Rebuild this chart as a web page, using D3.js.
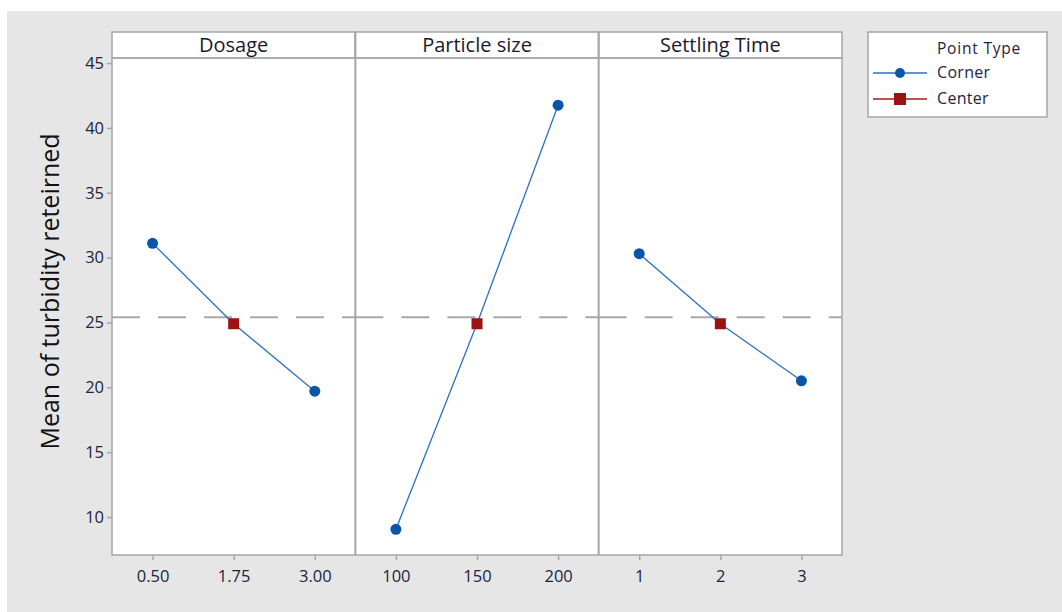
<!DOCTYPE html>
<html>
<head>
<meta charset="utf-8">
<script src="https://cdn.jsdelivr.net/npm/d3@7"></script>
<style>
  html, body { margin: 0; padding: 0; background: #ffffff; }
  svg { display: block; }
  text { font-family: "Open Sans", "Noto Sans", sans-serif; }
</style>
</head>
<body>
<svg id="chart" width="1062" height="612"></svg>
<script>
// Main effects plot data
const factors = ["Dosage", "Particle size", "Settling Time"];
const levels = [[0.5, 1.75, 3.0], [100, 150, 200], [1, 2, 3]];
const levelLabels = [["0.50", "1.75", "3.00"], ["100", "150", "200"], ["1", "2", "3"]];
const cornerLow = [31.1, 9.05, 30.3];
const cornerHigh = [19.7, 41.75, 20.5];
const centerValue = [24.9, 24.9, 24.9];
const grandMean = 25.4;
const yTicks = [10, 15, 20, 25, 30, 35, 40, 45];
const legendItems = ["Corner", "Center"];

const blue = "#0a55a8", lineBlue = "#2c6fc0", red = "#9b1212", frame = "#a6a6a6";
const textCol = "#23233f";
const svg = d3.select("#chart");

// page background
svg.append("rect").attr("x", 7).attr("y", 11).attr("width", 1055).attr("height", 601).attr("fill", "#e6e6e6");

const plotLeft = 112, plotRight = 842, plotTop = 58, plotBottom = 555, stripTop = 32;
const panelW = (plotRight - plotLeft) / factors.length;

const y = d3.scaleLinear().domain([7.07, 45.39]).range([plotBottom, plotTop]);

factors.forEach((f, i) => {
  const x0 = plotLeft + i * panelW;
  const lv = levels[i];
  const span = lv[2] - lv[0];
  const pad = span * 0.25;
  const x = d3.scaleLinear().domain([lv[0] - pad, lv[2] + pad]).range([x0, x0 + panelW]);

  const g = svg.append("g");
  // panel + strip
  g.append("rect").attr("x", x0).attr("y", plotTop).attr("width", panelW).attr("height", plotBottom - plotTop)
    .attr("fill", "#ffffff");
  g.append("rect").attr("x", x0).attr("y", stripTop).attr("width", panelW).attr("height", plotTop - stripTop)
    .attr("fill", "#ffffff").attr("stroke", frame).attr("stroke-width", 1.5);
  g.append("text").attr("x", x0 + panelW / 2).attr("y", stripTop + 20).attr("text-anchor", "middle")
    .attr("font-size", 20).attr("fill", "#1a1a2e").text(f);

  // reference line at the grand mean
  g.append("line").attr("x1", x0).attr("x2", x0 + panelW).attr("y1", y(grandMean)).attr("y2", y(grandMean))
    .attr("stroke", "#a8a8a8").attr("stroke-width", 2).attr("stroke-dasharray", "28,18");

  const pts = [[lv[0], cornerLow[i]], [lv[1], centerValue[i]], [lv[2], cornerHigh[i]]];
  g.append("path").attr("d", d3.line().x(d => x(d[0])).y(d => y(d[1]))(pts))
    .attr("fill", "none").attr("stroke", lineBlue).attr("stroke-width", 1.3);

  [pts[0], pts[2]].forEach(p => {
    g.append("circle").attr("cx", x(p[0])).attr("cy", y(p[1])).attr("r", 5.5).attr("fill", blue);
  });
  g.append("rect").attr("x", x(pts[1][0]) - 5.5).attr("y", y(pts[1][1]) - 5.5).attr("width", 11).attr("height", 11)
    .attr("fill", red);

  // x axis
  const xa = d3.axisBottom(x).tickValues(lv).tickFormat((d, k) => levelLabels[i][k]).tickSizeOuter(0).tickSize(5);
  const ax = svg.append("g").attr("transform", `translate(0,${plotBottom})`).call(xa);
  ax.select(".domain").remove();
  ax.selectAll(".tick line").attr("stroke", frame).attr("stroke-width", 1.5);
  ax.selectAll(".tick text").attr("font-size", 16.5).attr("fill", textCol).attr("y", 12).attr("dy", "0.9em")
    .attr("font-weight", 500).attr("font-family", "'Open Sans', 'Noto Sans', sans-serif");
});

// panel frames and dividers
svg.append("rect").attr("x", plotLeft).attr("y", plotTop).attr("width", plotRight - plotLeft).attr("height", plotBottom - plotTop)
  .attr("fill", "none").attr("stroke", frame).attr("stroke-width", 1.5);
for (let i = 1; i < factors.length; i++) {
  svg.append("line").attr("x1", plotLeft + i * panelW).attr("x2", plotLeft + i * panelW)
    .attr("y1", stripTop).attr("y2", plotBottom).attr("stroke", frame).attr("stroke-width", 2);
}

// y axis
const ya = d3.axisLeft(y).tickValues(yTicks).tickSize(5).tickSizeOuter(0);
const ay = svg.append("g").attr("transform", `translate(${plotLeft},0)`).call(ya);
ay.select(".domain").remove();
ay.selectAll(".tick line").attr("stroke", frame).attr("stroke-width", 1.5);
ay.selectAll(".tick text").attr("font-size", 16.5).attr("fill", textCol).attr("x", -8).attr("font-weight", 500)
  .attr("font-family", "'Open Sans', 'Noto Sans', sans-serif");

svg.append("text").attr("transform", `translate(59,${(plotTop + plotBottom) / 2 - 15}) rotate(-90)`)
  .attr("text-anchor", "middle").attr("font-size", 25).attr("fill", "#111").text("Mean of turbidity reteirned");

// legend
const lg = svg.append("g");
lg.append("rect").attr("x", 868).attr("y", 32).attr("width", 179).attr("height", 85)
  .attr("fill", "#ffffff").attr("stroke", frame).attr("stroke-width", 1.5);
lg.append("text").attr("x", 937).attr("y", 54).attr("font-size", 15.5).attr("letter-spacing", 0.8)
  .attr("font-weight", 500).attr("fill", textCol).text("Point Type");
legendItems.forEach((name, k) => {
  const ly = 73 + k * 26;
  const col = k === 0 ? lineBlue : "#a01c1c";
  lg.append("line").attr("x1", 873).attr("x2", 927).attr("y1", ly).attr("y2", ly).attr("stroke", col).attr("stroke-width", 1.5);
  if (k === 0) lg.append("circle").attr("cx", 900).attr("cy", ly).attr("r", 5).attr("fill", blue);
  else lg.append("rect").attr("x", 894).attr("y", ly - 6).attr("width", 12).attr("height", 12).attr("fill", red);
  lg.append("text").attr("x", 937).attr("y", ly + 5).attr("font-size", 16).attr("letter-spacing", 0.3)
    .attr("font-weight", 500).attr("fill", textCol).text(name);
});
</script>
</body>
</html>
